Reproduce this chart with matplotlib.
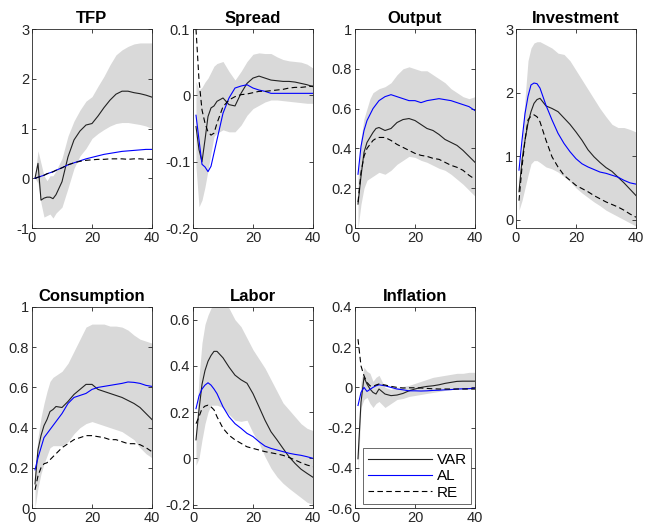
import matplotlib
matplotlib.use("Agg")
import matplotlib.pyplot as plt

plt.rcParams["font.family"] = ["Liberation Sans", "DejaVu Sans"]

# horizon points
t = [1, 2, 3, 4, 5, 6, 7, 8, 10, 12, 14, 16, 18, 20, 22, 24, 26, 28, 30, 32, 34, 36, 38, 40]

titles = ["TFP", "Spread", "Output", "Investment", "Consumption", "Labor", "Inflation"]

# TFP
tfp_var = [0.0, 0.30, -0.44, -0.40, -0.38, -0.38, -0.41, -0.33, -0.07, 0.43, 0.77, 0.95, 1.07, 1.10, 1.25, 1.42, 1.57, 1.69, 1.75, 1.75, 1.72, 1.70, 1.67, 1.63]
tfp_al = [0.0, 0.02, 0.04, 0.06, 0.09, 0.11, 0.13, 0.16, 0.21, 0.27, 0.31, 0.35, 0.39, 0.42, 0.45, 0.48, 0.50, 0.52, 0.54, 0.55, 0.56, 0.57, 0.58, 0.58]
tfp_re = [0.0, 0.02, 0.04, 0.06, 0.09, 0.11, 0.13, 0.16, 0.21, 0.27, 0.31, 0.34, 0.36, 0.37, 0.38, 0.38, 0.39, 0.39, 0.39, 0.38, 0.39, 0.39, 0.38, 0.38]
tfp_lo = [0.0, -0.1, -0.5, -0.78, -0.75, -0.72, -0.8, -0.7, -0.58, -0.2, 0.2, 0.45, 0.6, 0.8, 0.9, 0.98, 1.05, 1.1, 1.12, 1.12, 1.1, 1.08, 1.05, 1.0]
tfp_hi = [0.05, 0.55, 0.3, 0.05, -0.05, 0.05, 0.05, 0.15, 0.4, 0.85, 1.15, 1.37, 1.55, 1.64, 1.85, 2.05, 2.28, 2.48, 2.58, 2.65, 2.7, 2.72, 2.72, 2.72]

# Spread
spr_var = [-0.047, -0.082, -0.100, -0.067, -0.032, -0.019, -0.016, -0.009, -0.004, -0.014, -0.016, 0.003, 0.018, 0.026, 0.029, 0.026, 0.023, 0.022, 0.021, 0.021, 0.020, 0.018, 0.016, 0.013]
spr_al = [-0.030, -0.067, -0.104, -0.108, -0.115, -0.107, -0.087, -0.067, -0.027, -0.004, 0.011, 0.014, 0.016, 0.011, 0.008, 0.006, 0.003, 0.003, 0.003, 0.003, 0.003, 0.003, 0.003, 0.003]
spr_re = [0.100, 0.023, -0.022, -0.042, -0.055, -0.060, -0.057, -0.042, -0.017, -0.007, -0.002, 0.001, 0.002, 0.004, 0.006, 0.006, 0.007, 0.008, 0.009, 0.011, 0.012, 0.012, 0.013, 0.014]
spr_lo = [-0.108, -0.168, -0.158, -0.138, -0.113, -0.087, -0.062, -0.057, -0.052, -0.055, -0.055, -0.045, -0.03, -0.02, -0.015, -0.01, -0.007, -0.007, -0.008, -0.009, -0.01, -0.011, -0.012, -0.012]
spr_hi = [0.021, 0.008, 0.012, 0.02, 0.026, 0.035, 0.044, 0.048, 0.051, 0.036, 0.023, 0.036, 0.051, 0.062, 0.064, 0.063, 0.063, 0.058, 0.054, 0.052, 0.051, 0.05, 0.047, 0.041]

# Output
out_var = [0.12, 0.26, 0.38, 0.43, 0.455, 0.48, 0.50, 0.505, 0.49, 0.50, 0.53, 0.545, 0.55, 0.54, 0.52, 0.50, 0.49, 0.47, 0.445, 0.43, 0.415, 0.39, 0.36, 0.33]
out_al = [0.27, 0.41, 0.49, 0.54, 0.57, 0.60, 0.62, 0.64, 0.66, 0.67, 0.66, 0.65, 0.64, 0.64, 0.63, 0.64, 0.645, 0.65, 0.645, 0.64, 0.63, 0.62, 0.61, 0.59]
out_re = [0.13, 0.28, 0.36, 0.40, 0.42, 0.44, 0.45, 0.455, 0.455, 0.44, 0.42, 0.405, 0.39, 0.375, 0.365, 0.36, 0.35, 0.345, 0.33, 0.315, 0.305, 0.29, 0.265, 0.245]
out_lo = [0.0, 0.12, 0.2, 0.24, 0.25, 0.26, 0.27, 0.28, 0.27, 0.29, 0.32, 0.34, 0.36, 0.355, 0.34, 0.33, 0.315, 0.30, 0.29, 0.27, 0.245, 0.22, 0.19, 0.16]
out_hi = [0.25, 0.45, 0.55, 0.6, 0.65, 0.68, 0.69, 0.70, 0.71, 0.73, 0.77, 0.80, 0.81, 0.80, 0.79, 0.79, 0.77, 0.75, 0.73, 0.70, 0.68, 0.66, 0.65, 0.66]

# Investment
inv_var = [0.44, 0.94, 1.25, 1.52, 1.70, 1.83, 1.89, 1.91, 1.79, 1.75, 1.70, 1.60, 1.50, 1.38, 1.25, 1.10, 0.99, 0.90, 0.82, 0.76, 0.67, 0.58, 0.48, 0.38]
inv_al = [0.78, 1.25, 1.67, 1.94, 2.12, 2.15, 2.14, 2.07, 1.80, 1.57, 1.36, 1.20, 1.07, 0.96, 0.88, 0.83, 0.79, 0.75, 0.73, 0.70, 0.67, 0.62, 0.58, 0.56]
inv_re = [0.30, 0.83, 1.25, 1.57, 1.63, 1.65, 1.62, 1.54, 1.25, 0.99, 0.83, 0.70, 0.62, 0.54, 0.49, 0.44, 0.38, 0.33, 0.28, 0.24, 0.20, 0.15, 0.09, 0.04]
inv_lo = [0.15, 0.3, 0.5, 0.7, 0.88, 0.93, 0.93, 0.9, 0.83, 0.8, 0.75, 0.68, 0.6, 0.5, 0.42, 0.35, 0.28, 0.22, 0.15, 0.1, 0.05, 0.0, -0.05, -0.1]
inv_hi = [0.3, 1.2, 1.9, 2.5, 2.7, 2.78, 2.8, 2.8, 2.75, 2.7, 2.62, 2.6, 2.5, 2.35, 2.2, 2.05, 1.9, 1.75, 1.62, 1.5, 1.45, 1.45, 1.42, 1.38]

# Consumption
con_var = [0.12, 0.29, 0.36, 0.41, 0.44, 0.48, 0.49, 0.505, 0.50, 0.53, 0.565, 0.59, 0.615, 0.615, 0.59, 0.58, 0.57, 0.56, 0.55, 0.535, 0.52, 0.50, 0.47, 0.44]
con_al = [0.19, 0.25, 0.30, 0.35, 0.37, 0.39, 0.41, 0.43, 0.47, 0.52, 0.55, 0.56, 0.57, 0.59, 0.60, 0.605, 0.61, 0.615, 0.62, 0.627, 0.625, 0.62, 0.61, 0.605]
con_re = [0.09, 0.16, 0.20, 0.22, 0.225, 0.24, 0.255, 0.27, 0.30, 0.32, 0.34, 0.35, 0.36, 0.36, 0.355, 0.35, 0.34, 0.34, 0.33, 0.32, 0.32, 0.315, 0.30, 0.28]
con_lo = [0.0, 0.1, 0.17, 0.22, 0.26, 0.3, 0.31, 0.31, 0.31, 0.33, 0.37, 0.4, 0.42, 0.43, 0.42, 0.41, 0.4, 0.39, 0.38, 0.36, 0.34, 0.3, 0.27, 0.25]
con_hi = [0.2, 0.35, 0.45, 0.52, 0.58, 0.63, 0.65, 0.66, 0.68, 0.72, 0.78, 0.84, 0.9, 0.915, 0.915, 0.915, 0.905, 0.905, 0.9, 0.885, 0.86, 0.84, 0.83, 0.82]

# Labor
lab_var = [0.08, 0.21, 0.32, 0.38, 0.42, 0.445, 0.463, 0.463, 0.435, 0.395, 0.36, 0.34, 0.325, 0.28, 0.223, 0.165, 0.115, 0.08, 0.043, 0.007, -0.022, -0.047, -0.065, -0.082]
lab_al = [0.215, 0.27, 0.30, 0.317, 0.327, 0.317, 0.30, 0.28, 0.223, 0.18, 0.15, 0.13, 0.108, 0.094, 0.072, 0.053, 0.043, 0.036, 0.029, 0.022, 0.017, 0.013, 0.007, 0.0]
lab_re = [0.15, 0.18, 0.215, 0.226, 0.23, 0.223, 0.21, 0.18, 0.13, 0.10, 0.08, 0.065, 0.05, 0.043, 0.036, 0.029, 0.024, 0.019, 0.013, 0.004, -0.007, -0.019, -0.029, -0.036]
lab_lo = [-0.03, 0.0, 0.08, 0.15, 0.2, 0.23, 0.23, 0.23, 0.22, 0.19, 0.165, 0.16, 0.165, 0.11, 0.065, 0.007, -0.043, -0.08, -0.108, -0.13, -0.15, -0.17, -0.19, -0.2]
lab_hi = [0.11, 0.35, 0.5, 0.58, 0.62, 0.65, 0.67, 0.68, 0.68, 0.65, 0.6, 0.57, 0.52, 0.47, 0.43, 0.39, 0.34, 0.29, 0.24, 0.21, 0.18, 0.15, 0.13, 0.12]

# Inflation
inf_var = [-0.355, -0.074, 0.05, 0.017, -0.008, -0.025, -0.033, -0.008, -0.033, -0.041, -0.038, -0.03, -0.017, -0.008, 0.0, 0.005, 0.008, 0.013, 0.02, 0.025, 0.03, 0.031, 0.031, 0.031]
inf_al = [-0.09, -0.025, 0.0, -0.02, -0.01, 0.0, 0.008, 0.013, 0.008, 0.0, -0.008, -0.012, -0.017, -0.017, -0.018, -0.017, -0.015, -0.014, -0.012, -0.011, -0.008, -0.007, -0.006, -0.004]
inf_re = [0.24, 0.107, 0.058, 0.025, 0.008, 0.005, 0.012, 0.017, 0.012, 0.005, 0.0, -0.003, -0.002, -0.002, -0.003, -0.005, -0.007, -0.008, -0.008, -0.008, -0.008, -0.008, -0.008, -0.008]
inf_lo = [-0.45, -0.1, -0.06, -0.05, -0.08, -0.1, -0.08, -0.07, -0.1, -0.08, -0.06, -0.055, -0.045, -0.04, -0.035, -0.03, -0.025, -0.02, -0.015, -0.01, -0.01, -0.01, -0.01, -0.01]
inf_hi = [-0.25, 0.03, 0.1, 0.08, 0.07, 0.03, 0.05, 0.06, 0.0, -0.01, 0.0, 0.005, 0.01, 0.02, 0.03, 0.04, 0.05, 0.055, 0.06, 0.065, 0.07, 0.07, 0.075, 0.075]

series = [
    (tfp_var, tfp_al, tfp_re, tfp_lo, tfp_hi),
    (spr_var, spr_al, spr_re, spr_lo, spr_hi),
    (out_var, out_al, out_re, out_lo, out_hi),
    (inv_var, inv_al, inv_re, inv_lo, inv_hi),
    (con_var, con_al, con_re, con_lo, con_hi),
    (lab_var, lab_al, lab_re, lab_lo, lab_hi),
    (inf_var, inf_al, inf_re, inf_lo, inf_hi),
]
ylims = [(-1, 3), (-0.2, 0.1), (0, 1), (-0.13, 3), (0, 1), (-0.215, 0.655), (-0.6, 0.4)]
yticks = [
    [-1, 0, 1, 2, 3],
    [-0.2, -0.1, 0, 0.1],
    [0, 0.2, 0.4, 0.6, 0.8, 1],
    [0, 1, 2, 3],
    [0, 0.2, 0.4, 0.6, 0.8, 1],
    [-0.2, 0, 0.2, 0.4, 0.6],
    [-0.6, -0.4, -0.2, 0, 0.2, 0.4],
]

W, H = 648, 529
fig = plt.figure(figsize=(6.48, 5.29), dpi=100)
lefts = [32, 193, 355, 516]
axc = "#262626"

for i, name in enumerate(titles):
    row, col = divmod(i, 4)
    if row == 0:
        top, bot = 29, 228
    else:
        top, bot = 307, 508
    ax = fig.add_axes([lefts[col] / W, 1 - bot / H, 120 / W, (bot - top) / H])
    v, a, r, lo, hi = series[i]
    ax.fill_between(t, lo, hi, color="#d9d9d9", linewidth=0)
    ax.plot(t, v, color="#222222", lw=0.8, label="VAR")
    ax.plot(t, a, color="#0000ff", lw=0.8, label="AL")
    ax.plot(t, r, color="black", lw=0.8, ls=(0, (5, 3)), label="RE")
    ax.set_xlim(0, 40)
    ax.set_ylim(*ylims[i])
    ax.set_xticks([0, 20, 40])
    ax.set_yticks(yticks[i])
    ax.set_yticklabels(["%g" % y for y in yticks[i]])
    ax.tick_params(direction="in", top=True, right=True, length=3, width=0.6,
                   labelsize=10.5, colors=axc, labelcolor=axc, pad=2)
    for s in ax.spines.values():
        s.set_color(axc)
        s.set_linewidth(0.6)
    ax.set_title(name, fontsize=12, fontweight="bold", pad=4)
    if name == "Inflation":
        leg = ax.legend(loc="lower right", fontsize=11, frameon=True, fancybox=False,
                        handlelength=4.2, borderpad=0.3, labelspacing=0.15,
                        handletextpad=0.3, borderaxespad=0.25)
        leg.get_frame().set_edgecolor(axc)
        leg.get_frame().set_linewidth(0.6)

fig.savefig("out.png", dpi=100)
